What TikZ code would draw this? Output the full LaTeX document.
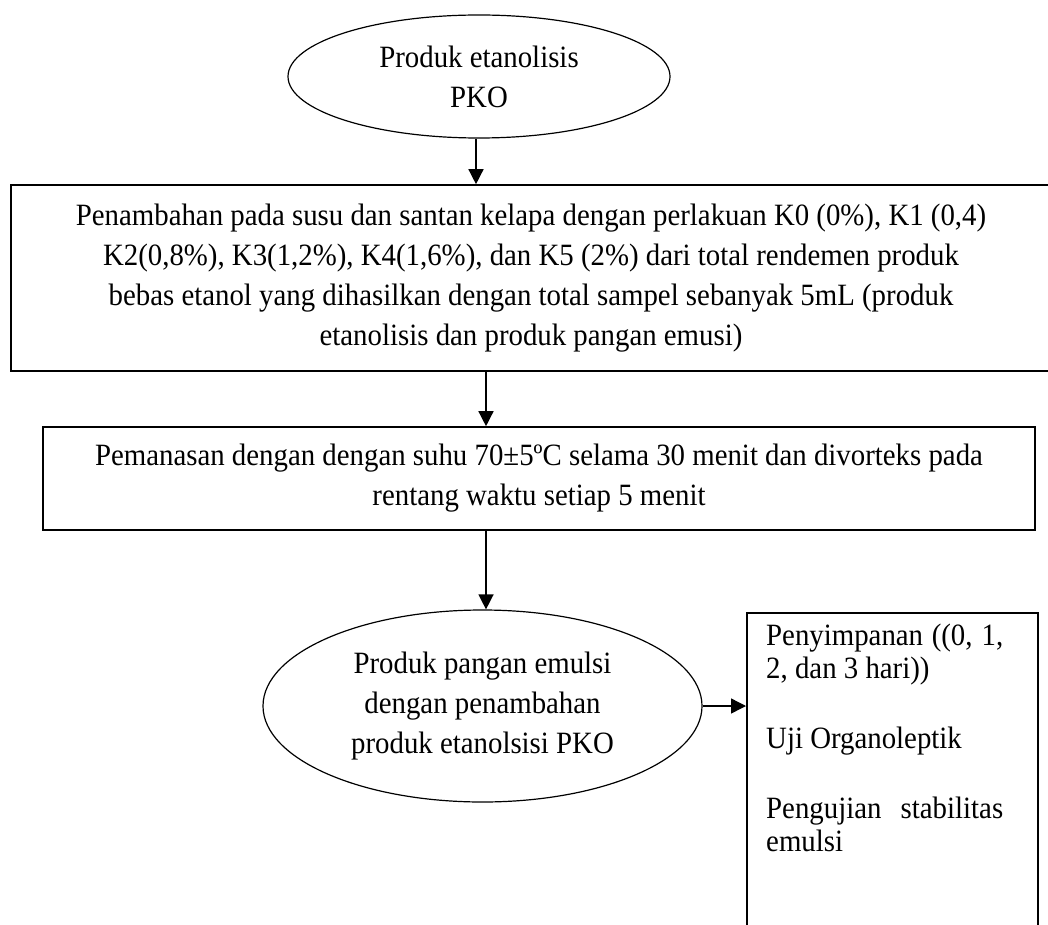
\documentclass[tikz,border=0pt]{standalone}
\usepackage{fontspec}
\setmainfont{Liberation Serif}[FakeStretch=0.93]
\usetikzlibrary{shapes.geometric,arrows.meta}
\begin{document}
\begin{tikzpicture}[x=1pt,y=-1pt,
  every node/.style={font=\fontsize{31}{40}\selectfont},
  procbox/.style={draw=black,line width=1.6pt,rectangle,inner sep=0pt,align=center},
  ovalnode/.style={draw=black,line width=1.2pt,ellipse,inner sep=0pt,align=center},
  flow/.style={line width=1.4pt,-{Triangle[length=15pt,width=15pt]}}]
\useasboundingbox (0,0) rectangle (1048,925);
\clip (0,0) rectangle (1048,925);
\node[ovalnode,minimum width=382pt,minimum height=123pt] (e1) at (479,76.5)
  {Produk etanolisis\\PKO};
\node[procbox,minimum width=1040pt,minimum height=186pt] (b1) at (531,278)
  {Penambahan pada susu dan santan kelapa dengan perlakuan K0 (0\%), K1 (0,4)\\
   K2(0,8\%), K3(1,2\%), K4(1,6\%), dan K5 (2\%) dari total rendemen produk\\
   bebas etanol yang dihasilkan dengan total sampel sebanyak 5mL (produk\\
   etanolisis dan produk pangan emusi)};
\node[procbox,minimum width=992pt,minimum height=103pt] (b2) at (539,478.5)
  {Pemanasan dengan dengan suhu 70±5ºC selama 30 menit dan divorteks pada\\
   rentang waktu setiap 5 menit};
\node[ovalnode,minimum width=439pt,minimum height=192pt] (e2) at (482.5,706)
  {Produk pangan emulsi\\dengan penambahan\\produk etanolsisi PKO};
\node[procbox,minimum width=291pt,minimum height=340pt,anchor=north west] (b3) at (746,612) {};
\node[anchor=north west,inner sep=0pt,text width=237pt,align=justify,
  font=\fontsize{31}{33}\selectfont] (b3t) at (766,624)
  {Penyimpanan ((0, 1, 2, dan 3 hari))\par\vspace{37pt}
   Uji Organoleptik\par\vspace{37pt}
   Pengujian stabilitas emulsi};
\coordinate (a1) at (476,0);
\draw[flow] (e1.south -| a1) -- (b1.north -| a1);
\coordinate (a2) at (486,0);
\draw[flow] (b1.south -| a2) -- (b2.north -| a2);
\draw[flow] (b2.south -| a2) -- (e2.north -| a2);
\draw[flow] (e2.east) -- (e2.east -| b3.west);
\end{tikzpicture}
\end{document}
